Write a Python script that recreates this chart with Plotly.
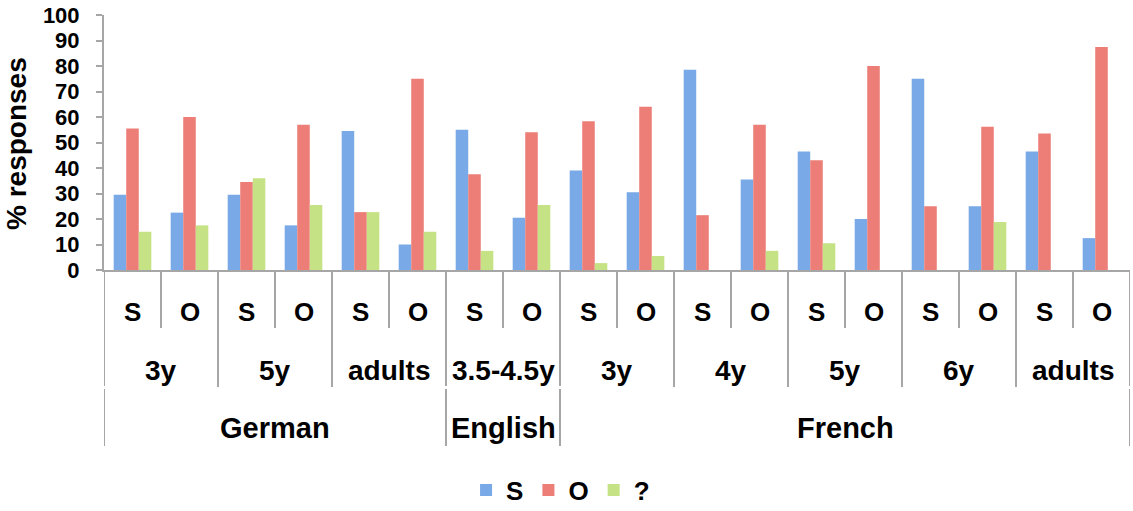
import plotly.graph_objects as go

# ---- data ----
language = ["German"] * 6 + ["English"] * 2 + ["French"] * 10
age = ["3y", "3y", "5y", "5y", "adults", "adults",
       "3.5-4.5y", "3.5-4.5y",
       "3y", "3y", "4y", "4y", "5y", "5y", "6y", "6y", "adults", "adults"]
condition = ["S", "O"] * 9

resp_S = [29.5, 22.5, 29.5, 17.5, 54.5, 10, 55, 20.5, 39, 30.5, 78.5, 35.5, 46.5, 20, 75, 25, 46.5, 12.5]
resp_O = [55.5, 60, 34.5, 57, 22.7, 75, 37.5, 54, 58.3, 64, 21.5, 57, 43, 80, 25, 56.2, 53.5, 87.5]
resp_Q = [15, 17.5, 36, 25.5, 22.7, 15, 7.5, 25.5, 2.7, 5.5, 0, 7.5, 10.5, 0, 0, 18.8, 0, 0]

series_names = ["S", "O", "?"]
series_colors = ["#79a9e6", "#ec7e77", "#c5e285"]

cats = [f"{l}|{a}|{c}|{i}" for i, (l, a, c) in enumerate(zip(language, age, condition))]
n = len(cats)

FONT = "Liberation Sans, Arial, Helvetica, sans-serif"
GRAY = "#a6a6a6"

fig = go.Figure()
for name, vals, col in zip(series_names, [resp_S, resp_O, resp_Q], series_colors):
    fig.add_trace(go.Bar(x=cats, y=vals, name=name, marker=dict(color=col, line=dict(width=0))))

# plot area in pixels: x 104..1130, y 15..270
def py(pix):
    return (270 - pix) / 255.0

shapes = []
annotations = []

# separators along the category axis
for b in range(n + 1):
    xb = b - 0.5
    left = b - 1
    right = b
    if left < 0 or right >= n or language[left] != language[right]:
        shapes.append(dict(type="line", xref="x", yref="paper", x0=xb, x1=xb,
                           y0=py(270), y1=py(386), line=dict(color=GRAY, width=2)))
        shapes.append(dict(type="line", xref="x", yref="paper", x0=xb, x1=xb,
                           y0=py(389), y1=py(446), line=dict(color=GRAY, width=2)))
    elif age[left] != age[right]:
        shapes.append(dict(type="line", xref="x", yref="paper", x0=xb, x1=xb,
                           y0=py(270), y1=py(387), line=dict(color=GRAY, width=2)))
    else:
        shapes.append(dict(type="line", xref="x", yref="paper", x0=xb, x1=xb,
                           y0=py(270), y1=py(328), line=dict(color=GRAY, width=2)))

# level 1 labels (S / O)
for i, c in enumerate(condition):
    annotations.append(dict(x=i, y=py(312), xref="x", yref="paper", text=c, showarrow=False,
                            font=dict(size=26, family=FONT, color="black", weight="bold"),
                            xanchor="center", yanchor="middle"))

# level 2 labels (age groups)
start = 0
for i in range(1, n + 1):
    if i == n or age[i] != age[start] or language[i] != language[start]:
        annotations.append(dict(x=(start + i - 1) / 2, y=py(370), xref="x", yref="paper",
                                text=age[start], showarrow=False,
                                font=dict(size=28, family=FONT, color="black", weight="bold"),
                                xanchor="center", yanchor="middle"))
        start = i

# level 3 labels (languages)
start = 0
for i in range(1, n + 1):
    if i == n or language[i] != language[start]:
        annotations.append(dict(x=(start + i - 1) / 2, y=py(428), xref="x", yref="paper",
                                text=language[start], showarrow=False,
                                font=dict(size=29, family=FONT, color="black", weight="bold"),
                                xanchor="center", yanchor="middle"))
        start = i

# y axis title
annotations.append(dict(x=(16 - 104) / 1026, y=py(144), xref="paper", yref="paper",
                        text="% responses", textangle=-90, showarrow=False,
                        font=dict(size=28, family=FONT, color="black", weight="bold"),
                        xanchor="center", yanchor="middle"))

fig.update_layout(
    width=1133, height=511,
    margin=dict(l=104, r=3, t=15, b=241, autoexpand=False),
    paper_bgcolor="white", plot_bgcolor="white",
    font=dict(family=FONT, color="black"),
    barmode="group", bargap=0.34, bargroupgap=0,
    showlegend=True,
    legend=dict(orientation="h", x=0.445, xanchor="center", y=py(490), yanchor="middle",
                font=dict(size=26, family=FONT, color="black", weight="bold"),
                itemwidth=30, bgcolor="rgba(0,0,0,0)"),
    shapes=shapes,
    annotations=annotations,
)
fig.update_xaxes(type="category", range=[-0.5, n - 0.5], showticklabels=False, ticks="",
                 showline=True, linecolor=GRAY, linewidth=2, showgrid=False, zeroline=False,
                 fixedrange=True, automargin=False)
fig.update_yaxes(range=[0, 100], dtick=10, tick0=0, showgrid=False, zeroline=False,
                 showline=True, linecolor=GRAY, linewidth=2,
                 ticks="outside", ticklen=6, tickwidth=2, tickcolor=GRAY,
                 tickfont=dict(size=22, family=FONT, color="black", weight="bold"),
                 ticklabelstandoff=12, automargin=False)

fig.write_html("out.html", config={"displayModeBar": False},
               post_script="document.body.style.margin='0px';document.body.style.overflow='hidden';")
